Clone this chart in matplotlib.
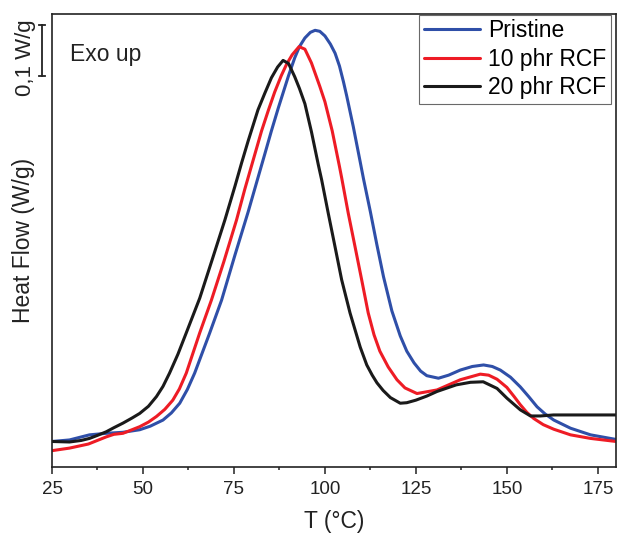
import matplotlib
matplotlib.use("Agg")
import matplotlib.pyplot as plt
import matplotlib.transforms as mtransforms

plt.rcParams['font.family'] = ['Liberation Sans', 'DejaVu Sans']

# DSC traces, heat flow in W/g (arbitrary baseline)
t_pristine = [25, 29.8, 35.3, 39.9, 44.5, 49.1, 52.0, 55.5, 57.8, 60.1, 62.2, 64.2, 68.3, 71.6, 75.3,
              78.9, 81.6, 83.5, 85.3, 87.2, 88.4, 90.0, 91.7, 93.0, 94.5, 96.0, 97.3,
              98.6, 100.0, 101.5, 102.8, 104.0, 105.1, 106.0, 107.8, 109.7, 110.6, 112.5,
              114.3, 116.1, 118.4, 120.7, 122.5, 124.5, 126.3, 128, 131.2, 134, 137.2,
              140.5, 143.6, 146, 148.2, 151, 153.7, 156, 158.3, 160.5, 162.9, 167.5, 173, 180]
hf_pristine = [0.050, 0.053, 0.063, 0.066, 0.068, 0.073, 0.080, 0.092, 0.106, 0.125, 0.152, 0.184,
               0.262, 0.327, 0.416,
               0.500, 0.567, 0.614, 0.659, 0.704, 0.731, 0.767, 0.802, 0.824, 0.841, 0.852, 0.856,
               0.854, 0.845, 0.829, 0.811, 0.786, 0.755, 0.727, 0.667, 0.598, 0.565, 0.500,
               0.435, 0.373, 0.306, 0.257, 0.227, 0.204, 0.188, 0.179, 0.174, 0.180, 0.190,
               0.197, 0.200, 0.197, 0.190, 0.176, 0.157, 0.138, 0.118, 0.104, 0.092, 0.076, 0.063, 0.054]

t_10phr = [25, 29.8, 35, 39.9, 42, 44.5, 49.1, 51.5, 53.7, 56.0, 58.2, 60.0, 61.9, 65.6, 68.8, 72.2,
           75.7, 78.0, 80.3, 82.6, 84.4, 86.2, 88.0, 89.5, 91.0, 92.9, 94.5, 96.3, 98.6,
           100.0, 102.0, 104.0, 104.6, 106.4, 108.3, 110.1, 111.9, 113.5, 115.1, 117.4,
           119.8, 122.0, 125.3, 130.8, 137.2, 142.7, 145, 147.3, 150, 152, 153.7, 155.5,
           157.4, 160, 162.9, 167.5, 173, 180]
hf_10phr = [0.032, 0.037, 0.045, 0.059, 0.064, 0.066, 0.079, 0.088, 0.099, 0.113, 0.131, 0.153,
            0.184, 0.263, 0.327, 0.402,
            0.484, 0.545, 0.602, 0.659, 0.698, 0.735, 0.767, 0.790, 0.808, 0.824, 0.819, 0.792, 0.746,
            0.716, 0.659, 0.589, 0.567, 0.498, 0.431, 0.367, 0.302, 0.259, 0.227, 0.196,
            0.171, 0.155, 0.144, 0.151, 0.171, 0.182, 0.180, 0.172, 0.156, 0.138, 0.122, 0.107,
            0.095, 0.083, 0.074, 0.063, 0.056, 0.050]

t_20phr = [25, 29.8, 33.0, 35.3, 37.5, 39.9, 42.0, 44.5, 47.0, 49.1, 51.5, 53.7, 55.5, 57.3, 59.6,
           61.9, 65.6, 69.0, 72.5, 75.3,
           77.1, 78.9, 81.6, 83.5, 85.3, 87.0, 88.5, 90.0, 91.7, 93.0, 94.5, 96.3, 98.2,
           99.1, 100.9, 102.8, 104.6, 106.9, 109.7, 111.5, 113, 114.3, 116, 118, 120.7,
           122.5, 125, 128, 130.8, 136.1, 140, 143.5, 147.3, 150, 153.7, 156.5, 159.2,
           162.8, 170, 180]
hf_20phr = [0.050, 0.049, 0.052, 0.056, 0.062, 0.069, 0.077, 0.086, 0.096, 0.105, 0.119, 0.138,
            0.158, 0.184, 0.221, 0.263, 0.331, 0.406, 0.484, 0.551,
            0.596, 0.639, 0.700, 0.733, 0.763, 0.784, 0.797, 0.791, 0.765, 0.742, 0.712, 0.657, 0.592,
            0.563, 0.498, 0.431, 0.367, 0.302, 0.235, 0.200, 0.180, 0.165, 0.150, 0.136, 0.125,
            0.126, 0.131, 0.139, 0.148, 0.161, 0.166, 0.167, 0.154, 0.135, 0.112, 0.100, 0.100,
            0.102, 0.102, 0.102]

labels = ['Pristine', '10 phr RCF', '20 phr RCF']
colors = ['#2f4fa8', '#ee1c25', '#1a1a1a']
xticks = [25, 50, 75, 100, 125, 150, 175]
ink = '#222222'

fig = plt.figure(figsize=(6.17, 5.38), dpi=100)
ax = fig.add_axes([0.0843, 0.132, 0.9141, 0.842])

for t, hf, lab, c in zip([t_pristine, t_10phr, t_20phr],
                         [hf_pristine, hf_10phr, hf_20phr], labels, colors):
    ax.plot(t, hf, color=c, lw=2.2, label=lab, solid_capstyle='round',
            solid_joinstyle='round')

ax.set_xlim(25, 180)
ax.set_ylim(0, 0.888)
ax.set_xticks(xticks)
ax.set_xticks([37.5, 62.5, 87.5, 112.5, 137.5, 162.5], minor=True)
ax.set_yticks([])
ax.tick_params(axis='x', which='major', direction='out', length=4.8, width=1.1,
               labelsize=13.5, pad=5, colors=ink)
ax.tick_params(axis='x', which='minor', direction='out', length=2.4, width=1.1,
               colors=ink)
for s in ax.spines.values():
    s.set_linewidth(1.2)
    s.set_color(ink)

ax.set_xlabel('T (°C)', fontsize=16.5, labelpad=9, color=ink)
ax.set_ylabel('Heat Flow (W/g)', fontsize=16.5, color=ink)
ax.yaxis.set_label_coords(-0.031, 0.5)

leg = ax.legend(loc='upper right', bbox_to_anchor=(0.991, 0.998), fontsize=16.5,
                frameon=True, fancybox=False, edgecolor='#444444', handlelength=2.45,
                handletextpad=0.35, labelspacing=0.24, borderpad=0.2, borderaxespad=0)
leg.get_frame().set_linewidth(0.8)

ax.text(0.032, 0.896, 'Exo up', transform=ax.transAxes, fontsize=16.5,
        va='baseline', ha='left', color=ink)

# 0.1 W/g scale bar
trans = mtransforms.blended_transform_factory(ax.transAxes, ax.transData)
bar_lo, bar_hi = 0.767, 0.867
xb = -0.0172
ax.plot([xb, xb], [bar_lo, bar_hi], color=ink, lw=1.3, transform=trans, clip_on=False)
for yb in (bar_lo, bar_hi):
    ax.plot([xb - 0.0053, xb + 0.0053], [yb, yb], color=ink, lw=1.3,
            transform=trans, clip_on=False)
ax.text(-0.047, 0.802, '0,1 W/g', transform=trans, rotation=90,
        fontsize=16, va='center', ha='center', color=ink)

fig.savefig('out.png', dpi=100)
